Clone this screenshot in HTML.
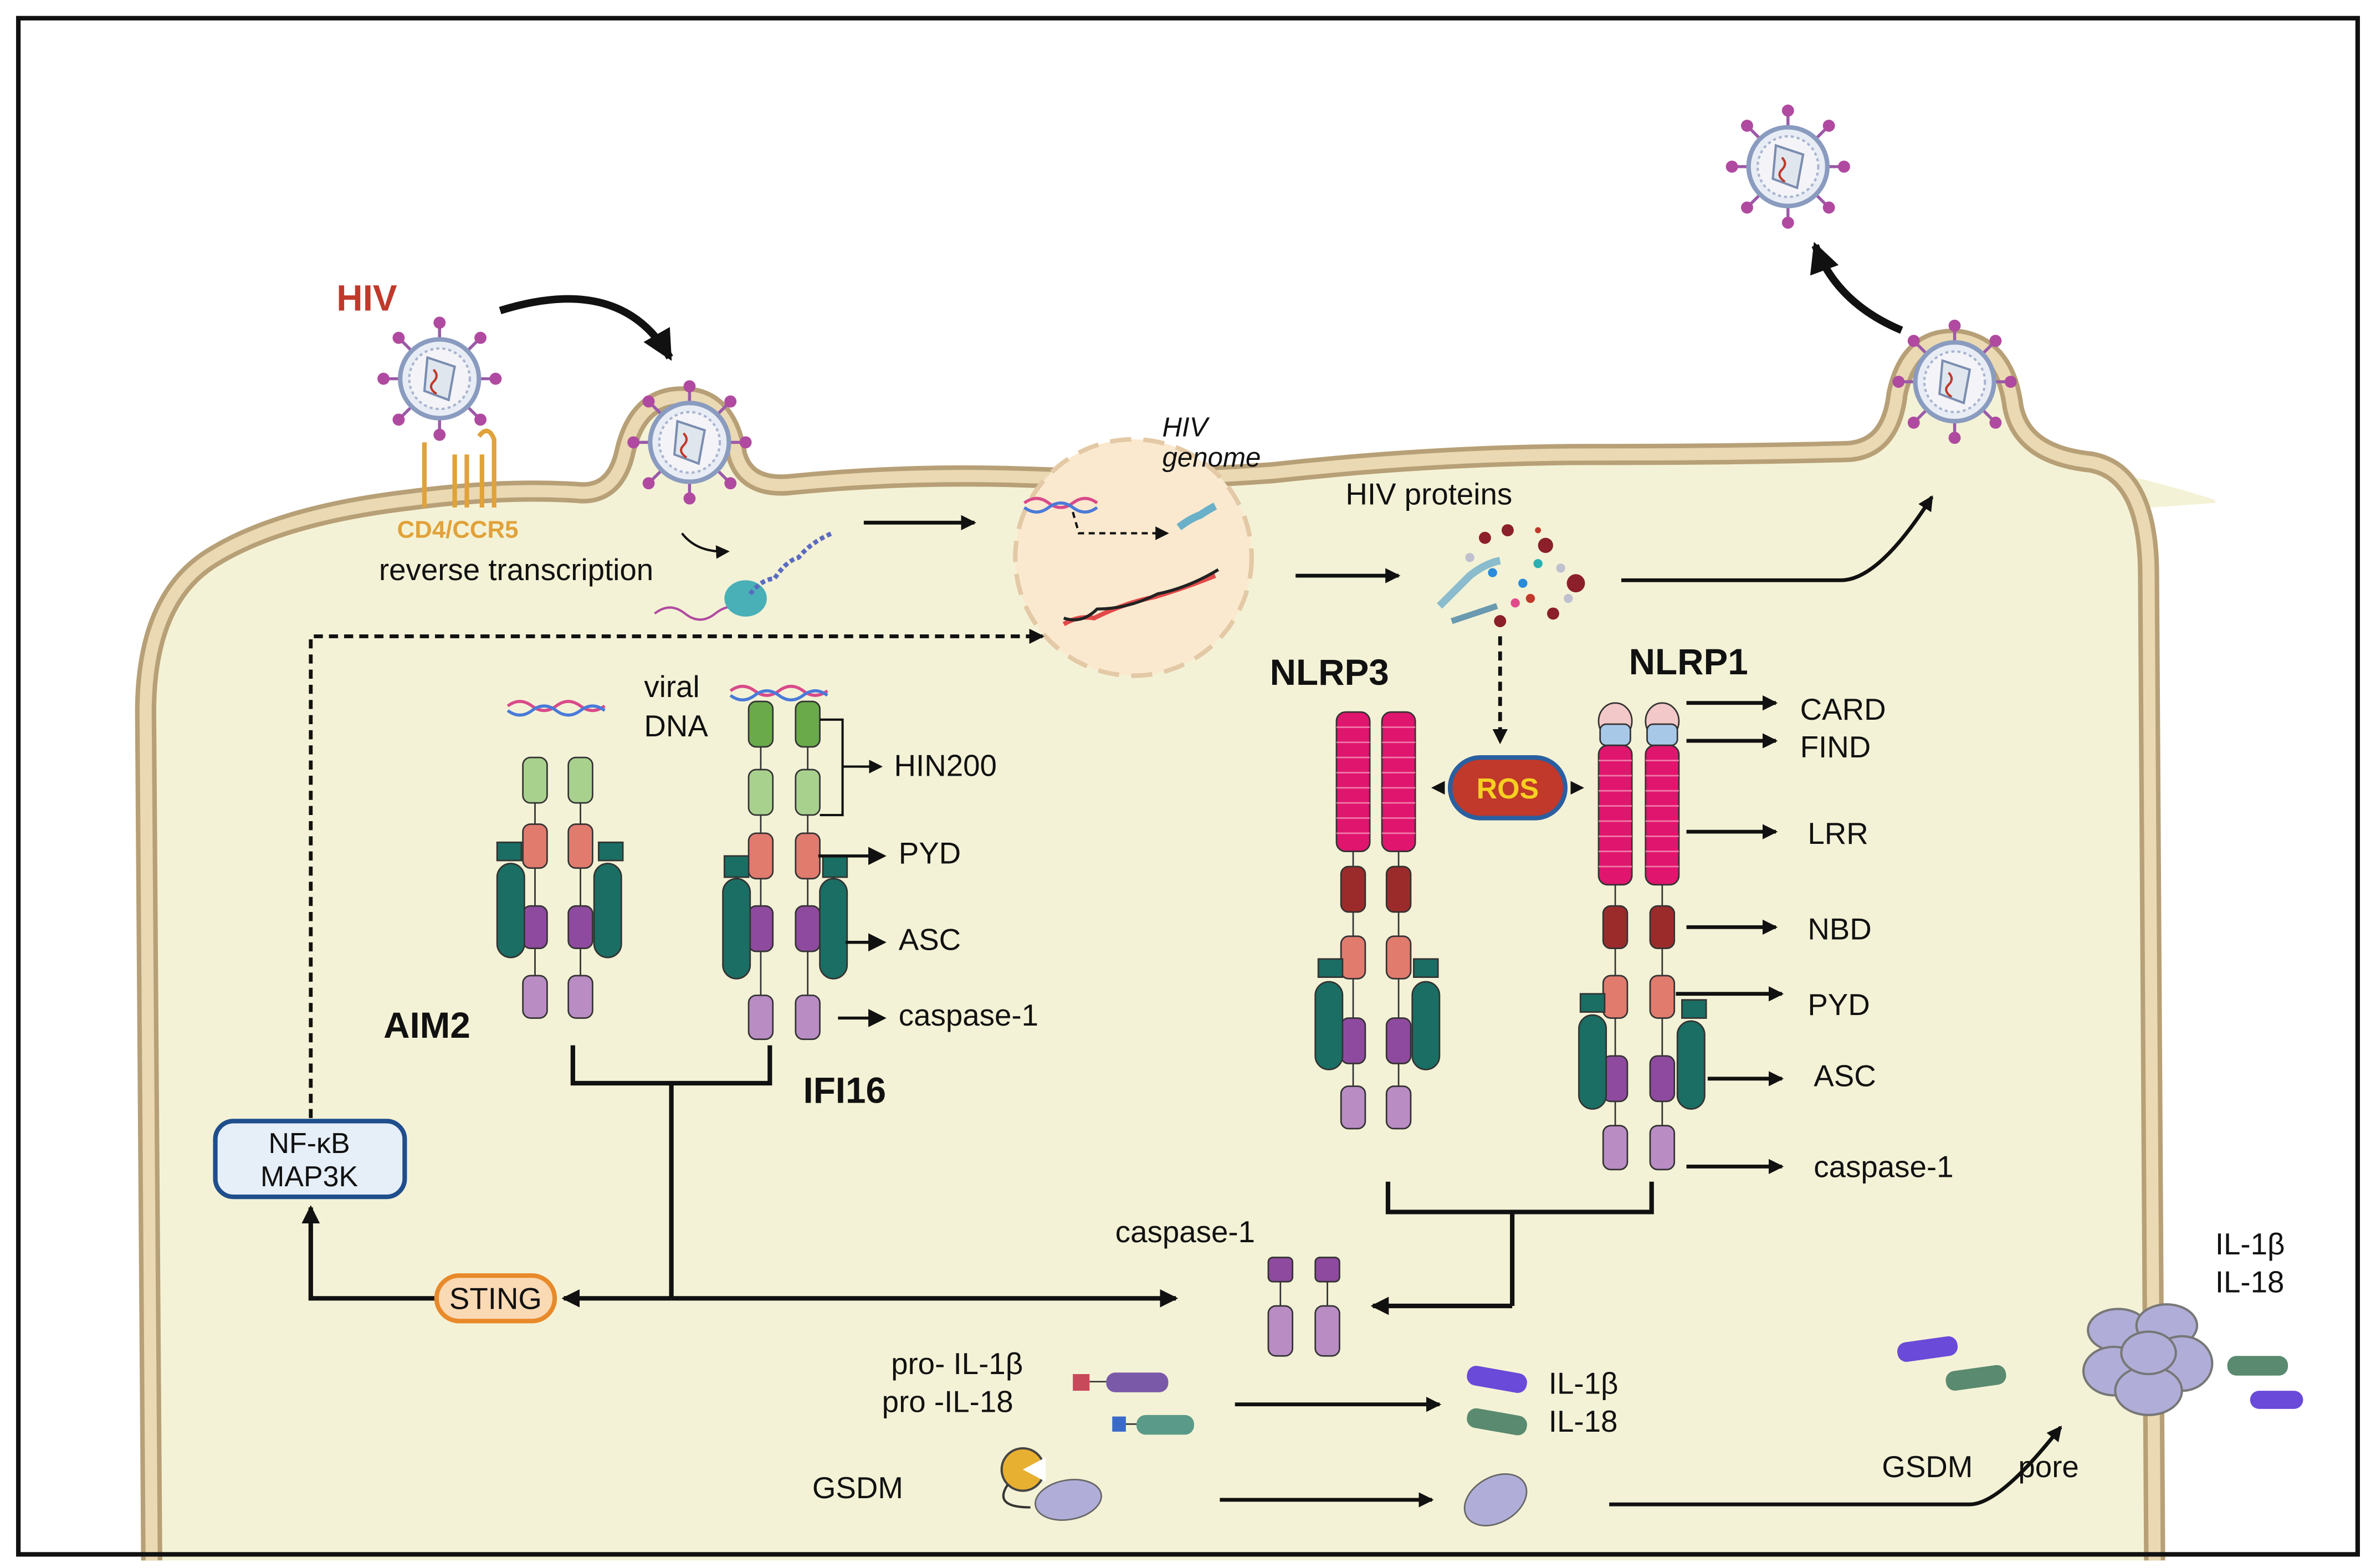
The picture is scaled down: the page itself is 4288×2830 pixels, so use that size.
<!DOCTYPE html>
<html><head><meta charset="utf-8"><style>
html,body{margin:0;padding:0;background:#fff}
svg{display:block}
text{font-family:"Liberation Sans",sans-serif;fill:#111}
</style></head><body>
<svg width="4288" height="2830" viewBox="0 0 1568 1035" xmlns="http://www.w3.org/2000/svg">
<defs>
<marker id="ah" markerWidth="6" markerHeight="6" refX="5" refY="3" orient="auto" markerUnits="strokeWidth"><path d="M0,0 L6,3 L0,6 z" fill="#111"/></marker>
<marker id="ahs" markerWidth="4" markerHeight="4" refX="3.5" refY="2" orient="auto" markerUnits="strokeWidth"><path d="M0,0 L4,2 L0,4 z" fill="#111"/></marker>
<g id="virus">
<g stroke="#9a5aa8" stroke-width="2">
<line x1="0" y1="-26" x2="0" y2="-36"/><line x1="0" y1="26" x2="0" y2="36"/>
<line x1="-26" y1="0" x2="-36" y2="0"/><line x1="26" y1="0" x2="36" y2="0"/>
<line x1="18" y1="18" x2="26" y2="26"/><line x1="-18" y1="18" x2="-26" y2="26"/>
<line x1="18" y1="-18" x2="26" y2="-26"/><line x1="-18" y1="-18" x2="-26" y2="-26"/>
</g>
<g fill="#b04aa0">
<circle cx="0" cy="-37" r="4"/><circle cx="0" cy="37" r="4"/><circle cx="-37" cy="0" r="4"/><circle cx="37" cy="0" r="4"/>
<circle cx="27" cy="27" r="4"/><circle cx="-27" cy="27" r="4"/><circle cx="27" cy="-27" r="4"/><circle cx="-27" cy="-27" r="4"/>
</g>
<circle r="26" fill="#e8ecf4" stroke="#8a9bc0" stroke-width="3"/>
<circle r="20" fill="#f4f4f8" stroke="#a9b4cf" stroke-width="1.5" stroke-dasharray="2 2"/>
<path d="M-8,-14 L10,-8 L6,14 L-10,8 z" fill="#dfe6ee" stroke="#7b8db0" stroke-width="1.5"/>
<path d="M-4,-6 q4,4 0,8 q-4,4 2,8" stroke="#c0392b" fill="none" stroke-width="1.5"/>
</g>
</defs>
<rect x="0" y="0" width="1568" height="1035" fill="#fff"/>
<!-- outside pale area at right -->
<path d="M1180,320 L1460,322 L1420,1030 L1520,1030 L1520,320 z" fill="#f4f2d6" opacity="0"/>
<!-- cell -->
<path d="M100,1030 L96,470 Q96,395 140,368 Q185,340 270,330 Q330,322 380,325 Q405,328 412,300 Q420,262 450,262 Q480,262 486,300 Q492,322 520,320 Q600,312 680,315 Q760,318 840,312 Q950,300 1050,300 Q1150,300 1220,298 Q1248,296 1252,260 Q1260,222 1292,224 Q1322,228 1328,265 Q1332,300 1380,305 Q1418,312 1418,380 L1422,1030 z" fill="#f4f2d6"/>
<path d="M1330,300 Q1400,310 1462,330 L1462,332 L1420,335 Z" fill="#f4f2d6"/>
<path d="M100,1030 L96,470 Q96,395 140,368 Q185,340 270,330 Q330,322 380,325 Q405,328 412,300 Q420,262 450,262 Q480,262 486,300 Q492,322 520,320 Q600,312 680,315 Q760,318 840,312 Q950,300 1050,300 Q1150,300 1220,298 Q1248,296 1252,260 Q1260,222 1292,224 Q1322,228 1328,265 Q1332,300 1380,305 Q1418,312 1418,380 L1422,1030" fill="none" stroke="#b7a077" stroke-width="14"/>
<path d="M100,1030 L96,470 Q96,395 140,368 Q185,340 270,330 Q330,322 380,325 Q405,328 412,300 Q420,262 450,262 Q480,262 486,300 Q492,322 520,320 Q600,312 680,315 Q760,318 840,312 Q950,300 1050,300 Q1150,300 1220,298 Q1248,296 1252,260 Q1260,222 1292,224 Q1322,228 1328,265 Q1332,300 1380,305 Q1418,312 1418,380 L1422,1030" fill="none" stroke="#ead9b2" stroke-width="8"/>
<rect x="12" y="12" width="1544" height="1014" fill="none" stroke="#111" stroke-width="3"/>

<!-- viruses -->
<use href="#virus" x="290" y="250"/>
<use href="#virus" x="455" y="292"/>
<use href="#virus" x="1290" y="252"/>
<use href="#virus" x="1180" y="110"/>
<text x="222" y="205" font-size="24" font-weight="bold" style="fill:#c0392b">HIV</text>
<path d="M330,205 Q410,180 442,236" fill="none" stroke="#111" stroke-width="5" marker-end="url(#ahs)"/>
<path d="M1255,218 Q1212,200 1198,162" fill="none" stroke="#111" stroke-width="5" marker-end="url(#ahs)"/>
<!-- receptors -->
<g stroke="#e0a23a" stroke-width="3" fill="none">
<path d="M280,292 L280,335"/><path d="M300,300 L300,335"/><path d="M308,300 L308,335"/><path d="M316,288 Q322,280 326,290 L326,335"/><path d="M318,300 L318,335"/>
</g>
<text x="262" y="355" font-size="16" font-weight="bold" style="fill:#e0a23a">CD4/CCR5</text>
<text x="250" y="383" font-size="20">reverse transcription</text>
<path d="M450,352 Q460,365 480,364" fill="none" stroke="#111" stroke-width="1.5" marker-end="url(#ah)"/>
<path d="M432,405 q10,-8 20,0 t20,0 t20,-2" fill="none" stroke="#b04aa0" stroke-width="1.5"/>
<ellipse cx="492" cy="395" rx="14" ry="12" fill="#4ab0b8"/>
<path d="M495,392 q8,-10 16,-10 q8,-12 16,-14 q8,-10 22,-16" fill="none" stroke="#5a6bc0" stroke-width="3" stroke-dasharray="3 2"/>
<path d="M570,345 L643,345" stroke="#111" stroke-width="2.5" marker-end="url(#ahs)"/>
<!-- nucleus -->
<circle cx="748" cy="368" r="78" fill="#fbe9cf" stroke="#e3c9a6" stroke-width="3" stroke-dasharray="14 8"/>
<text x="767" y="288" font-size="18" font-style="italic">HIV</text>
<text x="767" y="308" font-size="18" font-style="italic">genome</text>
<path d="M676,332 q8,-6 16,0 t16,0 t16,0" fill="none" stroke="#d94a8a" stroke-width="2"/>
<path d="M676,335 q8,6 16,0 t16,0 t16,0" fill="none" stroke="#4a7ad9" stroke-width="2"/>
<path d="M708,338 L712,352 L770,352" fill="none" stroke="#111" stroke-width="1.5" stroke-dasharray="4 3" marker-end="url(#ah)"/>
<path d="M778,348 q8,-6 14,-8 q6,-4 10,-6" fill="none" stroke="#6ab0c8" stroke-width="5"/>
<path d="M702,412 q10,-6 20,-4 q20,-10 40,-14 q20,-6 40,-14" fill="none" stroke="#e24a4a" stroke-width="3"/>
<path d="M702,408 q12,4 22,-6 q20,0 40,-10 q20,-4 40,-16" fill="none" stroke="#222" stroke-width="2"/>
<path d="M855,380 L923,380" stroke="#111" stroke-width="2.5" marker-end="url(#ahs)"/>
<text x="888" y="333" font-size="20">HIV proteins</text>
<!-- protein cluster -->
<g>
<path d="M950,400 q10,-10 20,-20 q10,-8 20,-10" fill="none" stroke="#8abccd" stroke-width="5"/>
<path d="M958,410 q15,-5 30,-10" fill="none" stroke="#6a9ab0" stroke-width="4"/>
<circle cx="980" cy="355" r="4" fill="#8b1f2a"/><circle cx="995" cy="350" r="4" fill="#8b1f2a"/><circle cx="1020" cy="360" r="5" fill="#8b1f2a"/>
<circle cx="1040" cy="385" r="6" fill="#8b1f2a"/><circle cx="990" cy="410" r="4" fill="#8b1f2a"/><circle cx="1025" cy="405" r="4" fill="#8b1f2a"/>
<circle cx="985" cy="378" r="3" fill="#2a8bd8"/><circle cx="1005" cy="385" r="3" fill="#2a8bd8"/><circle cx="1015" cy="372" r="3" fill="#2ab0b0"/>
<circle cx="1000" cy="398" r="3" fill="#e04a8a"/><circle cx="1030" cy="375" r="3" fill="#c0c0d0"/><circle cx="970" cy="368" r="3" fill="#c0c0d0"/>
<circle cx="1010" cy="395" r="3" fill="#c0392b"/><circle cx="1035" cy="395" r="3" fill="#c0c0d0"/><circle cx="1015" cy="350" r="2" fill="#c0392b"/>
</g>
<path d="M1070,383 L1215,383 Q1240,383 1275,328" fill="none" stroke="#111" stroke-width="2.5" marker-end="url(#ahs)"/>
<path d="M990,420 L990,490" stroke="#111" stroke-width="2.5" stroke-dasharray="6 4" marker-end="url(#ahs)"/>
<rect x="957" y="500" width="76" height="40" rx="20" fill="#c0392b" stroke="#2a5fa0" stroke-width="3"/>
<text x="995" y="527" font-size="19" font-weight="bold" text-anchor="middle" style="fill:#f5d020">ROS</text>
<path d="M953,520 L946,520" stroke="#111" stroke-width="1.5" marker-end="url(#ah)"/>
<path d="M1037,520 L1044,520" stroke="#111" stroke-width="1.5" marker-end="url(#ah)"/>
<text x="838" y="452" font-size="24" font-weight="bold">NLRP3</text>
<text x="1075" y="445" font-size="24" font-weight="bold">NLRP1</text>

<!-- dashed feedback -->
<path d="M205,738 L205,420 L688,420" fill="none" stroke="#111" stroke-width="2.5" stroke-dasharray="6 4" marker-end="url(#ahs)"/>
<rect x="142" y="740" width="125" height="50" rx="12" fill="#e6eef8" stroke="#1f4e8c" stroke-width="3"/>
<text x="204" y="761" font-size="19" text-anchor="middle">NF-κB</text>
<text x="204" y="783" font-size="19" text-anchor="middle">MAP3K</text>
<path d="M288,857 L205,857 L205,797" fill="none" stroke="#111" stroke-width="3" marker-end="url(#ahs)"/>
<rect x="288" y="842" width="78" height="30" rx="15" fill="#fad9b5" stroke="#e8892a" stroke-width="3"/>
<text x="327" y="864" font-size="20" text-anchor="middle">STING</text>

<!-- brackets -->
<path d="M378,690 L378,715 L508,715 L508,690 M443,715 L443,857" fill="none" stroke="#111" stroke-width="3"/>
<path d="M443,857 L372,857" stroke="#111" stroke-width="3" marker-end="url(#ahs)"/>
<path d="M443,857 L776,857" stroke="#111" stroke-width="3" marker-end="url(#ahs)"/>
<path d="M916,780 L916,800 L1090,800 L1090,780 M998,800 L998,862" fill="none" stroke="#111" stroke-width="3"/>
<path d="M998,862 L906,862" stroke="#111" stroke-width="3" marker-end="url(#ahs)"/>

<!-- AIM2 -->
<g stroke="#333" stroke-width="1">
<line x1="353" y1="500" x2="353" y2="672"/><line x1="383" y1="500" x2="383" y2="672"/>
<rect x="345" y="500" width="16" height="30" rx="5" fill="#a9d18e"/><rect x="375" y="500" width="16" height="30" rx="5" fill="#a9d18e"/>
<rect x="345" y="544" width="16" height="29" rx="5" fill="#e07b6e"/><rect x="375" y="544" width="16" height="29" rx="5" fill="#e07b6e"/>
<rect x="345" y="598" width="16" height="28" rx="5" fill="#8e4a9e"/><rect x="375" y="598" width="16" height="28" rx="5" fill="#8e4a9e"/>
<rect x="345" y="644" width="16" height="28" rx="5" fill="#b98cc4"/><rect x="375" y="644" width="16" height="28" rx="5" fill="#b98cc4"/>
<rect x="328" y="570" width="18" height="62" rx="9" fill="#1a6e63"/><rect x="392" y="570" width="18" height="62" rx="9" fill="#1a6e63"/>
<rect x="328" y="556" width="16" height="12" fill="#1a6e63"/><rect x="395" y="556" width="16" height="12" fill="#1a6e63"/>
</g>
<path d="M335,466 q8,-6 16,0 t16,0 t16,0 t16,0" fill="none" stroke="#d94a8a" stroke-width="2"/>
<path d="M335,469 q8,6 16,0 t16,0 t16,0 t16,0" fill="none" stroke="#4a7ad9" stroke-width="2"/>
<path d="M482,456 q8,-6 16,0 t16,0 t16,0 t16,0" fill="none" stroke="#d94a8a" stroke-width="2"/>
<path d="M482,459 q8,6 16,0 t16,0 t16,0 t16,0" fill="none" stroke="#4a7ad9" stroke-width="2"/>
<text x="253" y="685" font-size="24" font-weight="bold">AIM2</text>
<text x="530" y="728" font-size="24" font-weight="bold">IFI16</text>
<text x="425" y="460" font-size="20">viral</text>
<text x="425" y="486" font-size="20">DNA</text>

<!-- IFI16 -->
<g stroke="#333" stroke-width="1">
<line x1="502" y1="463" x2="502" y2="686"/><line x1="533" y1="463" x2="533" y2="686"/>
<rect x="494" y="463" width="16" height="30" rx="5" fill="#6aaa4a"/><rect x="525" y="463" width="16" height="30" rx="5" fill="#6aaa4a"/>
<rect x="494" y="508" width="16" height="30" rx="5" fill="#a9d18e"/><rect x="525" y="508" width="16" height="30" rx="5" fill="#a9d18e"/>
<rect x="494" y="550" width="16" height="30" rx="5" fill="#e07b6e"/><rect x="525" y="550" width="16" height="30" rx="5" fill="#e07b6e"/>
<rect x="494" y="598" width="16" height="30" rx="5" fill="#8e4a9e"/><rect x="525" y="598" width="16" height="30" rx="5" fill="#8e4a9e"/>
<rect x="494" y="657" width="16" height="29" rx="5" fill="#b98cc4"/><rect x="525" y="657" width="16" height="29" rx="5" fill="#b98cc4"/>
<rect x="477" y="580" width="18" height="66" rx="9" fill="#1a6e63"/><rect x="541" y="580" width="18" height="66" rx="9" fill="#1a6e63"/>
<rect x="478" y="565" width="16" height="14" fill="#1a6e63"/><rect x="543" y="565" width="16" height="14" fill="#1a6e63"/>
</g>
<path d="M541,475 L556,475 L556,538 L541,538 M556,506 L580,506" fill="none" stroke="#111" stroke-width="1.5"/>
<path d="M568,506 L581,506" stroke="#111" stroke-width="1.5" marker-end="url(#ah)"/>
<text x="590" y="507" font-size="20" dominant-baseline="middle">HIN200</text>
<path d="M540,565 L583,565" stroke="#111" stroke-width="2" marker-end="url(#ah)"/>
<text x="593" y="570" font-size="20">PYD</text>
<path d="M558,622 L583,622" stroke="#111" stroke-width="2" marker-end="url(#ah)"/>
<text x="593" y="627" font-size="20">ASC</text>
<path d="M553,672 L583,672" stroke="#111" stroke-width="2" marker-end="url(#ah)"/>
<text x="593" y="677" font-size="20">caspase-1</text>

<!-- NLRP3 -->
<g stroke="#333" stroke-width="1">
<line x1="893" y1="470" x2="893" y2="745"/><line x1="923" y1="470" x2="923" y2="745"/>
<rect x="882" y="470" width="22" height="92" rx="6" fill="#e0156e"/><rect x="912" y="470" width="22" height="92" rx="6" fill="#e0156e"/>
<path d="M882,480 h22 M882,490 h22 M882,500 h22 M882,510 h22 M882,520 h22 M882,530 h22 M882,540 h22 M882,550 h22 M912,480 h22 M912,490 h22 M912,500 h22 M912,510 h22 M912,520 h22 M912,530 h22 M912,540 h22 M912,550 h22" stroke="#f07aa8"/>
<rect x="885" y="572" width="16" height="30" rx="5" fill="#9b2b2b"/><rect x="915" y="572" width="16" height="30" rx="5" fill="#9b2b2b"/>
<rect x="885" y="618" width="16" height="28" rx="5" fill="#e07b6e"/><rect x="915" y="618" width="16" height="28" rx="5" fill="#e07b6e"/>
<rect x="885" y="672" width="16" height="30" rx="5" fill="#8e4a9e"/><rect x="915" y="672" width="16" height="30" rx="5" fill="#8e4a9e"/>
<rect x="885" y="717" width="16" height="28" rx="5" fill="#b98cc4"/><rect x="915" y="717" width="16" height="28" rx="5" fill="#b98cc4"/>
<rect x="868" y="648" width="18" height="58" rx="9" fill="#1a6e63"/><rect x="932" y="648" width="18" height="58" rx="9" fill="#1a6e63"/>
<rect x="870" y="633" width="16" height="12" fill="#1a6e63"/><rect x="933" y="633" width="16" height="12" fill="#1a6e63"/>
</g>

<!-- NLRP1 -->
<g stroke="#333" stroke-width="1">
<line x1="1066" y1="470" x2="1066" y2="772"/><line x1="1097" y1="470" x2="1097" y2="772"/>
<ellipse cx="1066" cy="476" rx="11" ry="12" fill="#f3c8c8"/><ellipse cx="1097" cy="476" rx="11" ry="12" fill="#f3c8c8"/>
<rect x="1056" y="478" width="20" height="14" rx="4" fill="#a8c8e8"/><rect x="1087" y="478" width="20" height="14" rx="4" fill="#a8c8e8"/>
<rect x="1055" y="492" width="22" height="92" rx="6" fill="#e0156e"/><rect x="1086" y="492" width="22" height="92" rx="6" fill="#e0156e"/>
<path d="M1055,502 h22 M1055,512 h22 M1055,522 h22 M1055,532 h22 M1055,542 h22 M1055,552 h22 M1055,562 h22 M1055,572 h22 M1086,502 h22 M1086,512 h22 M1086,522 h22 M1086,532 h22 M1086,542 h22 M1086,552 h22 M1086,562 h22 M1086,572 h22" stroke="#f07aa8"/>
<rect x="1058" y="598" width="16" height="28" rx="5" fill="#9b2b2b"/><rect x="1089" y="598" width="16" height="28" rx="5" fill="#9b2b2b"/>
<rect x="1058" y="644" width="16" height="28" rx="5" fill="#e07b6e"/><rect x="1089" y="644" width="16" height="28" rx="5" fill="#e07b6e"/>
<rect x="1058" y="697" width="16" height="30" rx="5" fill="#8e4a9e"/><rect x="1089" y="697" width="16" height="30" rx="5" fill="#8e4a9e"/>
<rect x="1058" y="743" width="16" height="29" rx="5" fill="#b98cc4"/><rect x="1089" y="743" width="16" height="29" rx="5" fill="#b98cc4"/>
<rect x="1042" y="670" width="18" height="62" rx="9" fill="#1a6e63"/><rect x="1107" y="674" width="18" height="58" rx="9" fill="#1a6e63"/>
<rect x="1043" y="656" width="16" height="12" fill="#1a6e63"/><rect x="1110" y="660" width="16" height="12" fill="#1a6e63"/>
</g>
<g stroke="#111" stroke-width="2.5">
<path d="M1113,464 L1172,464" marker-end="url(#ahs)"/>
<path d="M1113,489 L1172,489" marker-end="url(#ahs)"/>
<path d="M1113,549 L1172,549" marker-end="url(#ahs)"/>
<path d="M1113,612 L1172,612" marker-end="url(#ahs)"/>
<path d="M1106,656 L1176,656" marker-end="url(#ahs)"/>
<path d="M1127,712 L1176,712" marker-end="url(#ahs)"/>
<path d="M1113,770 L1176,770" marker-end="url(#ahs)"/>
</g>
<text x="1188" y="475" font-size="20">CARD</text>
<text x="1188" y="500" font-size="20">FIND</text>
<text x="1193" y="557" font-size="20">LRR</text>
<text x="1193" y="620" font-size="20">NBD</text>
<text x="1193" y="670" font-size="20">PYD</text>
<text x="1197" y="717" font-size="20">ASC</text>
<text x="1197" y="777" font-size="20">caspase-1</text>

<!-- caspase-1 center -->
<text x="736" y="820" font-size="20">caspase-1</text>
<g stroke="#333" stroke-width="1">
<line x1="845" y1="830" x2="845" y2="895"/><line x1="876" y1="830" x2="876" y2="895"/>
<rect x="837" y="830" width="16" height="16" rx="3" fill="#8e4a9e"/><rect x="868" y="830" width="16" height="16" rx="3" fill="#8e4a9e"/>
<rect x="837" y="862" width="16" height="33" rx="5" fill="#b98cc4"/><rect x="868" y="862" width="16" height="33" rx="5" fill="#b98cc4"/>
</g>
<text x="588" y="907" font-size="20">pro- IL-1β</text>
<text x="582" y="932" font-size="20">pro -IL-18</text>
<rect x="708" y="907" width="11" height="11" fill="#c84a5a"/><line x1="719" y1="912" x2="730" y2="912" stroke="#333"/>
<rect x="730" y="906" width="41" height="13" rx="6" fill="#7a5aa8"/>
<rect x="734" y="935" width="9" height="10" fill="#3a6ac8"/><line x1="743" y1="940" x2="750" y2="940" stroke="#333"/>
<rect x="750" y="934" width="38" height="13" rx="6" fill="#5a9a88"/>
<path d="M815,927 L950,927" stroke="#111" stroke-width="2.5" marker-end="url(#ahs)"/>
<rect x="968" y="904" width="40" height="13" rx="6" fill="#6a4ad8" transform="rotate(10 988 910)"/>
<rect x="968" y="932" width="40" height="13" rx="6" fill="#5a8a70" transform="rotate(10 988 938)"/>
<text x="1022" y="920" font-size="20">IL-1β</text>
<text x="1022" y="945" font-size="20">IL-18</text>
<text x="536" y="989" font-size="20">GSDM</text>
<circle cx="675" cy="970" r="14" fill="#e8b030" stroke="#444" stroke-width="1.5"/>
<path d="M675,970 L690,962 L690,978 z" fill="#fff"/>
<path d="M665,980 Q655,995 680,995" fill="none" stroke="#333" stroke-width="1.5"/>
<ellipse cx="705" cy="990" rx="22" ry="13" fill="#b0aed8" stroke="#666" transform="rotate(-10 705 990)"/>
<path d="M805,990 L945,990" stroke="#111" stroke-width="2.5" marker-end="url(#ahs)"/>
<ellipse cx="987" cy="990" rx="22" ry="15" fill="#b0aed8" stroke="#666" transform="rotate(-30 987 990)"/>
<path d="M1062,993 L1300,993 Q1320,993 1360,942" fill="none" stroke="#111" stroke-width="2.5" marker-end="url(#ahs)"/>
<text x="1242" y="975" font-size="20">GSDM</text>
<text x="1332" y="975" font-size="20">pore</text>
<rect x="1252" y="884" width="40" height="13" rx="6" fill="#6a4ad8" transform="rotate(-8 1272 890)"/>
<rect x="1284" y="903" width="40" height="13" rx="6" fill="#5a8a70" transform="rotate(-8 1304 909)"/>
<rect x="1470" y="895" width="40" height="13" rx="6" fill="#5a8a70"/>
<rect x="1485" y="918" width="35" height="12" rx="6" fill="#6a4ad8"/>
<g fill="#b0aed8" stroke="#777" stroke-width="1.5">
<ellipse cx="1398" cy="878" rx="20" ry="14"/><ellipse cx="1430" cy="875" rx="20" ry="14"/>
<ellipse cx="1395" cy="905" rx="20" ry="16"/><ellipse cx="1440" cy="900" rx="20" ry="18"/>
<ellipse cx="1418" cy="918" rx="22" ry="16"/><ellipse cx="1418" cy="893" rx="18" ry="14"/>
</g>
<text x="1462" y="828" font-size="20">IL-1β</text>
<text x="1462" y="853" font-size="20">IL-18</text>
</svg>
</body></html>
